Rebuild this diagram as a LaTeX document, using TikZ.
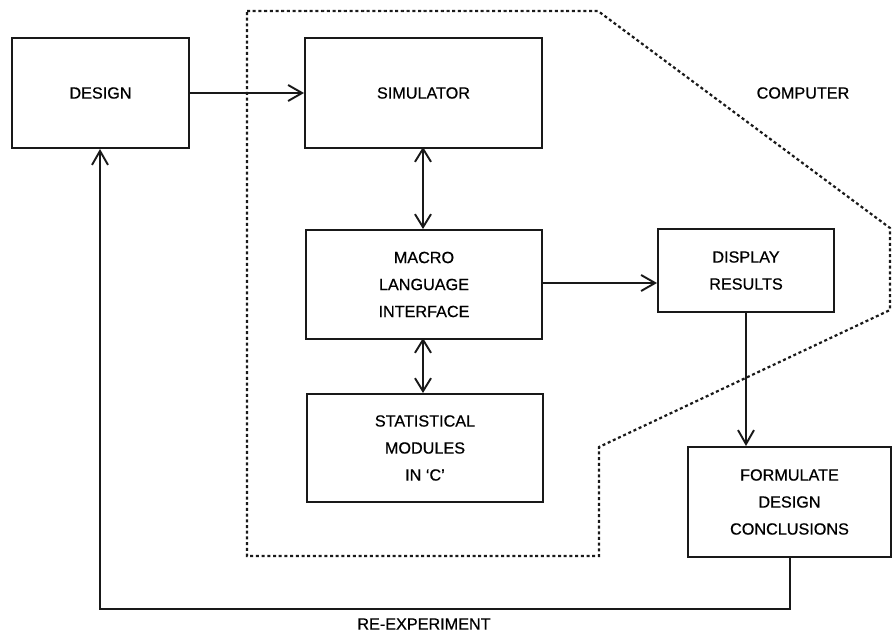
\documentclass[tikz,border=0pt]{standalone}
\usepackage{fontspec}
\setmainfont{Liberation Sans}[FakeBold=0.6]
\usetikzlibrary{arrows.meta}
\tikzset{
 box/.style={draw=black!90,line width=2pt,align=center,font=\fontsize{16.2}{27}\selectfont,inner sep=0pt,anchor=north west},
 conn/.style={draw=black!90,line width=1.8pt,-{Straight Barb[length=14pt,width=16pt,line width=1.9pt]}},
 thick conn/.style={conn,line width=2.6pt},
 both/.style={draw=black!90,line width=1.6pt,{Straight Barb[length=13pt,width=16pt,line width=1.9pt]}-{Straight Barb[length=13pt,width=16pt,line width=1.9pt]}},
 lbl/.style={font=\fontsize{16.2}{20}\selectfont,inner sep=0pt},
 dots/.style={draw=black!90,line width=2.2pt,dash pattern=on 3pt off 2.7pt}
}
\begin{document}
\begin{tikzpicture}[x=1pt,y=-1pt]
\useasboundingbox (0,0) rectangle (892,634);
\path[fill=white] (0,0) rectangle (892,634);
\newcommand{\boxat}[6]{\node[box,minimum width=#4 pt,minimum height=#5 pt] (#1) at (#2,#3) {#6};}
\boxat{design}{11}{37}{177}{110}{DESIGN}
\boxat{sim}{304}{37}{237}{110}{SIMULATOR}
\boxat{macro}{305}{229}{236}{109}{MACRO\\LANGUAGE\\INTERFACE}
\boxat{stat}{306}{393}{236}{108}{STATISTICAL\\MODULES\\IN  ‘C’}
\boxat{disp}{657}{228}{176}{83}{DISPLAY\\RESULTS}
\boxat{form}{687}{446}{203}{110}{FORMULATE\\DESIGN\\CONCLUSIONS}
\draw[dots] (247,11) -- (598,11) -- (890,228) -- (890,310) -- (599,447) -- (599,556) -- (247,556) -- cycle;
\node[lbl] (computer) at (803,93) {COMPUTER};
\node[lbl] (reexp) at (424,624) {RE-EXPERIMENT};
\coordinate (c1) at (100,609);
\coordinate (c2) at (790,609);
\draw[conn] (design.east|-0,93) -- (sim.west|-0,93);
\draw[both] (423,147) -- (423,229);
\draw[both] (423,338) -- (423,393);
\draw[conn] (macro.east|-0,283) -- (disp.west|-0,283);
\draw[thick conn] (746,311) -- (746,446);
\draw[conn] (form.south-|c2) -- (c2) -- (c1) -- (c1|-design.south);
\end{tikzpicture}
\end{document}
